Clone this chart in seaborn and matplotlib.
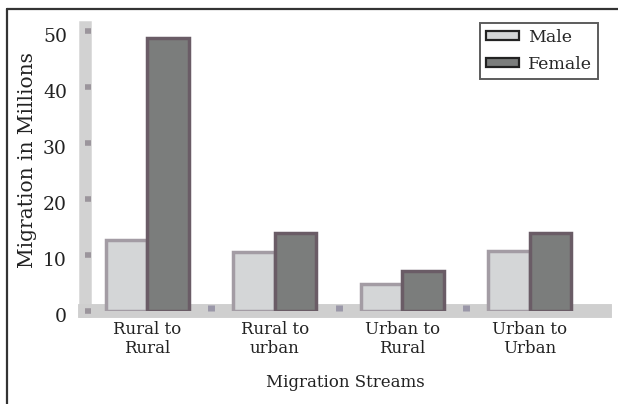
import matplotlib
matplotlib.use("Agg")
import matplotlib.pyplot as plt
import matplotlib.transforms as mtransforms
import seaborn as sns
import pandas as pd
from matplotlib.patches import Patch
from matplotlib.lines import Line2D

categories = ["Rural to\nRural", "Rural to\nurban", "Urban to\nRural", "Urban to\nUrban"]
male = [12.6, 10.5, 4.8, 10.7]
female = [48.8, 13.9, 7.1, 13.9]
series = ["Male", "Female"]
yticks = [0, 10, 20, 30, 40, 50]

df = pd.DataFrame({
    "stream": categories * 2,
    "value": male + female,
    "sex": ["Male"] * len(categories) + ["Female"] * len(categories),
})

sns.set_theme(style="white")
plt.rcParams["font.family"] = ["DejaVu Serif"]

fig = plt.figure(figsize=(6.18, 4.04), dpi=100)
ax = fig.add_axes([85/618, (404-311)/404, (605-85)/618, (311-27)/404])

colors = {"Male": "#d4d6d7", "Female": "#7b7d7c"}
sns.barplot(data=df, x="stream", y="value", hue="sex", order=categories,
            hue_order=series, palette=colors, width=0.65, gap=0,
            ax=ax, legend=False, saturation=1)

for i, p in enumerate(ax.patches):
    if i < 4:
        p.set_edgecolor("#a39ca4")
    else:
        p.set_edgecolor("#6a5c66")
    p.set_linewidth(2.5)
    p.set_zorder(3)

ax.set_axisbelow(False)
ax.set_ylim(0, (311-27)/5.6)
ax.set_xlim(-0.49, 3.59)
ax.set_yticks(yticks)
ax.set_yticklabels([str(t) for t in yticks], fontsize=13.5, color="#222222")
ax.tick_params(axis="y", left=True, direction="in", length=4, width=4,
               color="#9b959c", pad=13)
ax.tick_params(axis="x", length=0, pad=7, labelsize=12, colors="#222222")
ax.set_xticks([0.5, 1.5, 2.5], minor=True)
ax.tick_params(axis="x", which="minor", bottom=True, direction="in", length=4,
               width=5, color="#9a97a8")

shift = mtransforms.ScaledTranslation(0, -4/100, fig.dpi_scale_trans)
for lab in ax.get_yticklabels():
    lab.set_transform(lab.get_transform() + shift)

for s in ["top", "right"]:
    ax.spines[s].set_visible(False)
ax.spines["left"].set_color("#d2d2d2")
ax.spines["left"].set_linewidth(9)
ax.spines["bottom"].set_color("#cfcfcf")
ax.spines["bottom"].set_linewidth(10)
ax.spines["left"].set_zorder(1)
ax.spines["bottom"].set_zorder(2)

ax.set_ylabel("Migration in Millions", fontsize=14.5, color="#222222")
ax.yaxis.set_label_coords(-0.092, 0.53)
ax.set_xlabel("Migration Streams", fontsize=12, color="#222222", labelpad=12)

handles = [Patch(facecolor=colors[s], edgecolor="#222222", linewidth=1.6) for s in series]
leg = ax.legend(handles, series, loc="upper right", bbox_to_anchor=(598/618, (404-23)/404),
                bbox_transform=fig.transFigure,
                fontsize=12.5, frameon=True, fancybox=False, edgecolor="#333333",
                handlelength=1.9, handleheight=0.4, borderpad=0.35, labelspacing=0.55,
                handletextpad=0.5, borderaxespad=0.0)
leg.get_frame().set_linewidth(1.4)

# outer frame (top and left)
fig.add_artist(Line2D([7/618, 1.0], [(404-9)/404]*2, color="#333333", lw=1.6))
fig.add_artist(Line2D([7/618]*2, [0, (404-9)/404], color="#333333", lw=1.6))

fig.savefig("out.png", dpi=100)
